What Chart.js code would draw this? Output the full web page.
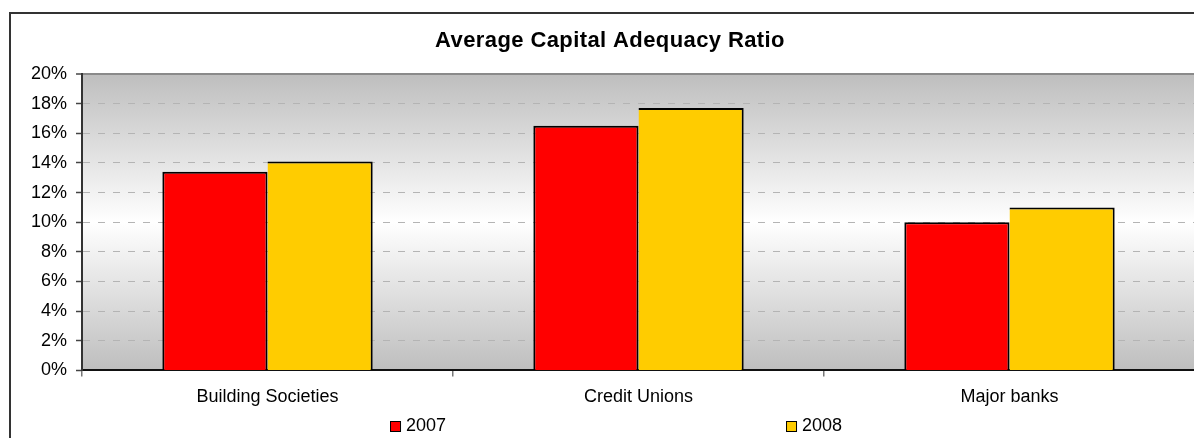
<!DOCTYPE html>
<html>
<head>
<meta charset="utf-8">
<title>Average Capital Adequacy Ratio</title>
<script src="https://cdn.jsdelivr.net/npm/chart.js@4"></script>
<style>
  html, body { margin: 0; padding: 0; background: #fff; overflow: hidden; }
  #wrap { width: 1220px; height: 438px; }
</style>
</head>
<body>
<div id="wrap"><canvas id="myChart" width="1220" height="438"></canvas></div>
<script>
const chartTitle = 'Average Capital Adequacy Ratio';
const categories = ['Building Societies', 'Credit Unions', 'Major banks'];
const seriesNames = ['2007', '2008'];
const ratio2007 = [13.4, 16.5, 10.0];
const ratio2008 = [14.1, 17.7, 11.0];
const yMin = 0;
const yMax = 20;
const yStep = 2;

const FONT = '"Liberation Sans", Arial, sans-serif';

/**
 * Frame, title and the grey band behind the plot
 */
const backdrop = {
  id: 'backdrop',
  beforeDraw: (chart) => {
    const { ctx, width, height, chartArea: a } = chart;
    ctx.save();
    ctx.fillStyle = '#fff';
    ctx.fillRect(0, 0, width, height);

    ctx.strokeStyle = '#333';
    ctx.lineWidth = 2;
    ctx.strokeRect(10, 13, width + 50, height + 50);

    const g = ctx.createLinearGradient(0, a.top, 0, a.bottom);
    g.addColorStop(0, '#bebebe');
    g.addColorStop(0.5, '#ffffff');
    g.addColorStop(1, '#bebebe');
    ctx.fillStyle = g;
    ctx.fillRect(a.left, a.top, a.right - a.left, a.bottom - a.top);

    ctx.fillStyle = '#000';
    ctx.font = 'bold 22px ' + FONT;
    ctx.letterSpacing = '0.4px';
    ctx.textAlign = 'center';
    ctx.textBaseline = 'middle';
    ctx.fillText(chartTitle, width / 2, 41);
    ctx.restore();
  }
};

/**
 * Legend spread out under the axis
 */
const spreadLegend = {
  id: 'spreadLegend',
  afterDraw: (chart) => {
    const { ctx, chartArea: a } = chart;
    ctx.save();
    ctx.font = '18px ' + FONT;
    ctx.textBaseline = 'middle';
    ctx.textAlign = 'left';
    chart.data.datasets.forEach((ds, i) => {
      const x = a.left + 308 + i * 396;
      const y = 426;
      ctx.fillStyle = ds.backgroundColor;
      ctx.fillRect(x, y - 5, 10, 10);
      ctx.strokeStyle = '#000';
      ctx.lineWidth = 1;
      ctx.strokeRect(x + 0.5, y - 4.5, 10, 10);
      ctx.fillStyle = '#000';
      ctx.fillText(ds.label, x + 16, y);
    });
    ctx.restore();
  }
};

const ctx = document.getElementById('myChart').getContext('2d');
const chart = new Chart(ctx, {
  type: 'bar',
  data: {
    labels: categories,
    datasets: [{
      label: seriesNames[0],
      data: ratio2007,
      backgroundColor: '#ff0000',
      borderColor: '#000',
      borderWidth: { top: 2, left: 2, right: 2, bottom: 0 },
      borderSkipped: false
    }, {
      label: seriesNames[1],
      data: ratio2008,
      backgroundColor: '#ffcc00',
      borderColor: '#000',
      borderWidth: { top: 2, left: 0, right: 2, bottom: 0 },
      borderSkipped: false
    }]
  },
  options: {
    responsive: false,
    animation: false,
    layout: { padding: { top: 74, left: 22, right: 25, bottom: 20 } },
    datasets: {
      bar: { categoryPercentage: 0.567, barPercentage: 1 }
    },
    plugins: {
      legend: { display: false },
      title: { display: false },
      tooltip: { enabled: false }
    },
    scales: {
      x: {
        offset: true,
        grid: {
          display: true,
          drawOnChartArea: false,
          tickLength: 6,
          color: '#777',
          lineWidth: 1.5
        },
        border: { display: true, color: '#111', width: 2 },
        ticks: {
          color: '#000',
          padding: 10,
          font: { family: FONT, size: 18 }
        }
      },
      y: {
        min: yMin,
        max: yMax,
        grid: {
          tickLength: 6,
          color: (c) => (c.tick && c.tick.value === yMax ? '#8a8a8a' : '#b4b4b4'),
          lineWidth: (c) => (c.tick && c.tick.value === yMax ? 2 : 1),
          tickColor: '#444',
          tickWidth: 1.5
        },
        border: {
          display: true,
          color: '#333',
          width: 2,
          dash: (c) => (c.type === 'tick' && c.tick.value < yMax ? [7, 8] : [])
        },
        ticks: {
          stepSize: yStep,
          color: '#000',
          padding: 9,
          font: { family: FONT, size: 18 },
          callback: (v) => v + '%'
        }
      }
    }
  },
  plugins: [backdrop, spreadLegend]
});
</script>
</body>
</html>
